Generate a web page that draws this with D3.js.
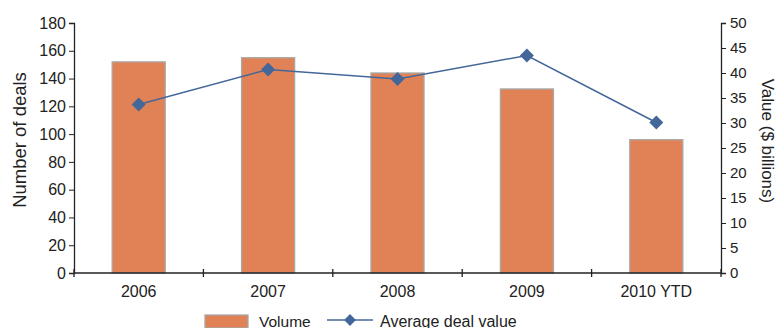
<!DOCTYPE html>
<html><head><meta charset="utf-8">
<script src="https://cdn.jsdelivr.net/npm/d3@7"></script>
<style>body{margin:0;background:#fff}svg{display:block;font-family:"Liberation Sans",Arial,sans-serif}</style>
</head><body><svg id="c" width="776" height="328"></svg>
<script>
const categories = ["2006","2007","2008","2009","2010 YTD"];
const volume = [152, 155, 144, 132.5, 96];
const avgValue = [33.7, 40.7, 38.8, 43.5, 30.1];
const leftTicks = [0,20,40,60,80,100,120,140,160,180];
const rightTicks = [0,5,10,15,20,25,30,35,40,45,50];

const svg = d3.select("#c");
const L = 74, R = 721, T = 23, B = 273;
const x = d3.scaleBand().domain(categories).range([L, R]).padding(0);
const yL = d3.scaleLinear().domain([0,180]).range([B, T]);
const yR = d3.scaleLinear().domain([0,50]).range([B, T]);
const barW = x.bandwidth()*0.41;

svg.selectAll("rect.bar").data(categories).join("rect")
  .attr("x", d => x(d) + (x.bandwidth()-barW)/2)
  .attr("y", (d,i) => yL(volume[i]))
  .attr("width", barW)
  .attr("height", (d,i) => B - yL(volume[i]))
  .attr("fill", "#E18256").attr("stroke", "#A8A8A8").attr("stroke-width", 1.3);

// axes
const ax = "#222";
const gl = svg.append("g").attr("transform", `translate(${L},0)`)
  .call(d3.axisLeft(yL).tickValues(leftTicks).tickSize(5).tickPadding(3));
const gr = svg.append("g").attr("transform", `translate(${R},0)`)
  .call(d3.axisRight(yR).tickValues(rightTicks).tickSize(5).tickPadding(4));
[gl, gr].forEach(g => {
  g.select(".domain").attr("stroke", ax).attr("stroke-width", 1.3);
  g.selectAll(".tick line").attr("stroke", ax);
  g.selectAll("text").attr("font-size", 15).attr("fill", "#222").attr("font-family", "Liberation Sans, Arial");
});
gl.selectAll("text").attr("font-size", 16);
// x axis
svg.append("line").attr("x1", L).attr("x2", R).attr("y1", B).attr("y2", B).attr("stroke", ax).attr("stroke-width", 1.5);
const bounds = categories.map(d => x(d)).concat([R]);
svg.selectAll("line.xt").data(bounds).join("line")
  .attr("x1", d => d).attr("x2", d => d).attr("y1", B-4).attr("y2", B+4)
  .attr("stroke", ax).attr("stroke-width", 1.3);
svg.selectAll("text.xl").data(categories).join("text")
  .attr("x", d => x(d) + x.bandwidth()/2).attr("y", 297)
  .attr("text-anchor", "middle").attr("font-size", 16).attr("fill", "#222").text(d => d);

// line
const line = d3.line().x((d,i) => x(categories[i]) + x.bandwidth()/2).y(d => yR(d));
svg.append("path").datum(avgValue).attr("d", line).attr("fill", "none")
  .attr("stroke", "#44679A").attr("stroke-width", 1.5);
const diamond = d3.symbol().type(d3.symbolSquare).size(98);
svg.selectAll("path.pt").data(avgValue).join("path")
  .attr("d", diamond)
  .attr("transform", (d,i) => `translate(${x(categories[i]) + x.bandwidth()/2},${yR(d)}) rotate(45)`)
  .attr("fill", "#44679A");

// axis titles
svg.append("text").attr("transform", "translate(26,140) rotate(-90)")
  .attr("text-anchor", "middle").attr("font-size", 18.5).attr("fill", "#222").text("Number of deals");
svg.append("text").attr("transform", "translate(762,141) rotate(90)")
  .attr("text-anchor", "middle").attr("font-size", 17).attr("fill", "#222").text("Value ($ billions)");

// legend
const lg = svg.append("g");
lg.append("rect").attr("x", 205).attr("y", 315).attr("width", 43).attr("height", 13)
  .attr("fill", "#E18256").attr("stroke", "#A8A8A8").attr("stroke-width", 1.3);
lg.append("text").attr("x", 259).attr("y", 327).attr("font-size", 15.5).attr("fill", "#222").text("Volume");
lg.append("line").attr("x1", 327).attr("x2", 373).attr("y1", 320).attr("y2", 320)
  .attr("stroke", "#44679A").attr("stroke-width", 1.5);
lg.append("path").attr("d", d3.symbol().type(d3.symbolSquare).size(70))
  .attr("transform", "translate(350,320) rotate(45)").attr("fill", "#44679A");
lg.append("text").attr("x", 380).attr("y", 327).attr("font-size", 16).attr("fill", "#222").text("Average deal value");
</script></body></html>
